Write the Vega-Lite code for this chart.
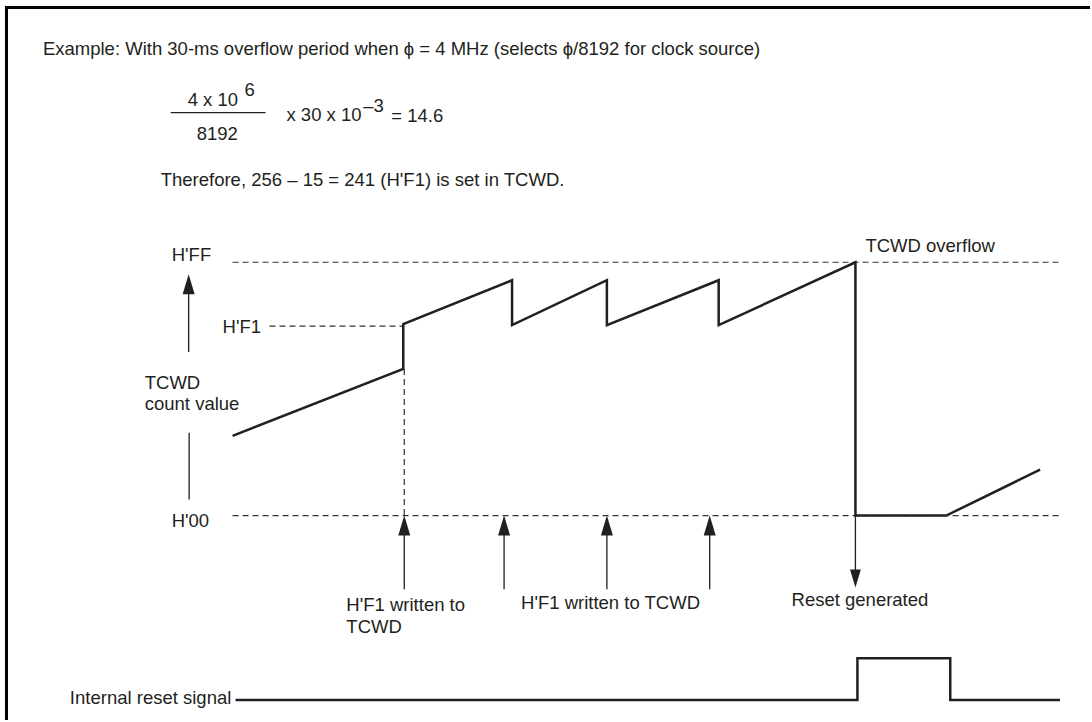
{
  "$schema": "https://vega.github.io/schema/vega-lite/v6.json",
  "width": 1092,
  "height": 722,
  "padding": 0,
  "autosize": {"type": "fit", "contains": "padding"},
  "background": "white",
  "config": {"view": {"stroke": null}},
  "datasets": {
    "frame": [
      {"x": 5, "y": 7.5, "x2": 1092, "y2": 7.5},
      {"x": 6.5, "y": 6, "x2": 6.5, "y2": 722}
    ],
    "dashed": [
      {"x": 233, "y": 263, "x2": 1062, "y2": 263},
      {"x": 270, "y": 327, "x2": 404, "y2": 327},
      {"x": 233, "y": 517, "x2": 1062, "y2": 517},
      {"x": 405, "y": 370, "x2": 405, "y2": 517}
    ],
    "thin": [
      {"x": 189, "y": 290, "x2": 189, "y2": 353},
      {"x": 189.5, "y": 434, "x2": 189.5, "y2": 501},
      {"x": 405, "y": 535, "x2": 405, "y2": 591},
      {"x": 505, "y": 535, "x2": 505, "y2": 591},
      {"x": 608, "y": 535, "x2": 608, "y2": 591},
      {"x": 711, "y": 535, "x2": 711, "y2": 591},
      {"x": 857, "y": 517, "x2": 857, "y2": 575},
      {"x": 171, "y": 113, "x2": 266, "y2": 113}
    ],
    "count": [
      {"i": 0, "x": 233, "y": 437},
      {"i": 1, "x": 404, "y": 370},
      {"i": 2, "x": 404, "y": 325},
      {"i": 3, "x": 513, "y": 281},
      {"i": 4, "x": 513, "y": 326},
      {"i": 5, "x": 608, "y": 281},
      {"i": 6, "x": 608, "y": 326},
      {"i": 7, "x": 720, "y": 281},
      {"i": 8, "x": 720, "y": 326},
      {"i": 9, "x": 857, "y": 263},
      {"i": 10, "x": 857, "y": 517},
      {"i": 11, "x": 948, "y": 517},
      {"i": 12, "x": 1042, "y": 471}
    ],
    "reset": [
      {"i": 0, "x": 236, "y": 702},
      {"i": 1, "x": 859, "y": 702},
      {"i": 2, "x": 859, "y": 660},
      {"i": 3, "x": 952, "y": 660},
      {"i": 4, "x": 952, "y": 702},
      {"i": 5, "x": 1062, "y": 702}
    ],
    "upheads": [
      {"x": 189, "y": 285},
      {"x": 405, "y": 527},
      {"x": 505, "y": 527},
      {"x": 608, "y": 527},
      {"x": 711, "y": 527}
    ],
    "downheads": [
      {"x": 857, "y": 580}
    ],
    "labels": [
      {"x": 43, "y": 49, "text": "Example: With 30-ms overflow period when ϕ = 4 MHz (selects ϕ/8192 for clock source)"},
      {"x": 188, "y": 100, "text": "4 x 10"},
      {"x": 245, "y": 90, "text": "6"},
      {"x": 197, "y": 134, "text": "8192"},
      {"x": 287, "y": 115, "text": "x 30  x 10"},
      {"x": 364, "y": 106, "text": "–3"},
      {"x": 392, "y": 116, "text": "= 14.6"},
      {"x": 161, "y": 180, "text": "Therefore, 256 – 15 = 241 (H'F1) is set in TCWD."},
      {"x": 172, "y": 256, "text": "H'FF"},
      {"x": 223, "y": 328, "text": "H'F1"},
      {"x": 145, "y": 384, "text": "TCWD"},
      {"x": 145, "y": 405, "text": "count value"},
      {"x": 172, "y": 522, "text": "H'00"},
      {"x": 867, "y": 247, "text": "TCWD overflow"},
      {"x": 347, "y": 607, "text": "H'F1 written to"},
      {"x": 347, "y": 629, "text": "TCWD"},
      {"x": 522, "y": 605, "text": "H'F1 written to TCWD"},
      {"x": 793, "y": 602, "text": "Reset generated"},
      {"x": 70, "y": 700, "text": "Internal reset signal"}
    ]
  },
  "encoding": {
    "x": {"field": "x", "type": "quantitative", "scale": {"domain": [0, 1092], "nice": false, "zero": false}, "axis": null},
    "y": {"field": "y", "type": "quantitative", "scale": {"domain": [0, 722], "nice": false, "zero": false, "reverse": true}, "axis": null}
  },
  "layer": [
    {
      "data": {"name": "frame"},
      "mark": {"type": "rule", "stroke": "#000", "strokeWidth": 3},
      "encoding": {"x2": {"field": "x2"}, "y2": {"field": "y2"}}
    },
    {
      "data": {"name": "dashed"},
      "mark": {"type": "rule", "stroke": "#333", "strokeWidth": 1.2, "strokeDash": [6, 4]},
      "encoding": {"x2": {"field": "x2"}, "y2": {"field": "y2"}}
    },
    {
      "data": {"name": "thin"},
      "mark": {"type": "rule", "stroke": "#231f20", "strokeWidth": 1.3},
      "encoding": {"x2": {"field": "x2"}, "y2": {"field": "y2"}}
    },
    {
      "data": {"name": "count"},
      "mark": {"type": "line", "stroke": "#231f20", "strokeWidth": 2.5, "strokeJoin": "miter"},
      "encoding": {"order": {"field": "i", "type": "quantitative"}}
    },
    {
      "data": {"name": "reset"},
      "mark": {"type": "line", "stroke": "#231f20", "strokeWidth": 2.5, "strokeJoin": "miter"},
      "encoding": {"order": {"field": "i", "type": "quantitative"}}
    },
    {
      "data": {"name": "upheads"},
      "mark": {"type": "point", "shape": "M0,-1L0.6,1L-0.6,1Z", "filled": true, "color": "#231f20", "opacity": 1, "size": 400, "strokeWidth": 0}
    },
    {
      "data": {"name": "downheads"},
      "mark": {"type": "point", "shape": "M0,1L0.6,-1L-0.6,-1Z", "filled": true, "color": "#231f20", "opacity": 1, "size": 324, "strokeWidth": 0}
    },
    {
      "data": {"name": "labels"},
      "mark": {"type": "text", "align": "left", "baseline": "middle", "font": "Liberation Sans", "fontSize": 18.5, "color": "#231f20"},
      "encoding": {"text": {"field": "text"}}
    }
  ]
}
